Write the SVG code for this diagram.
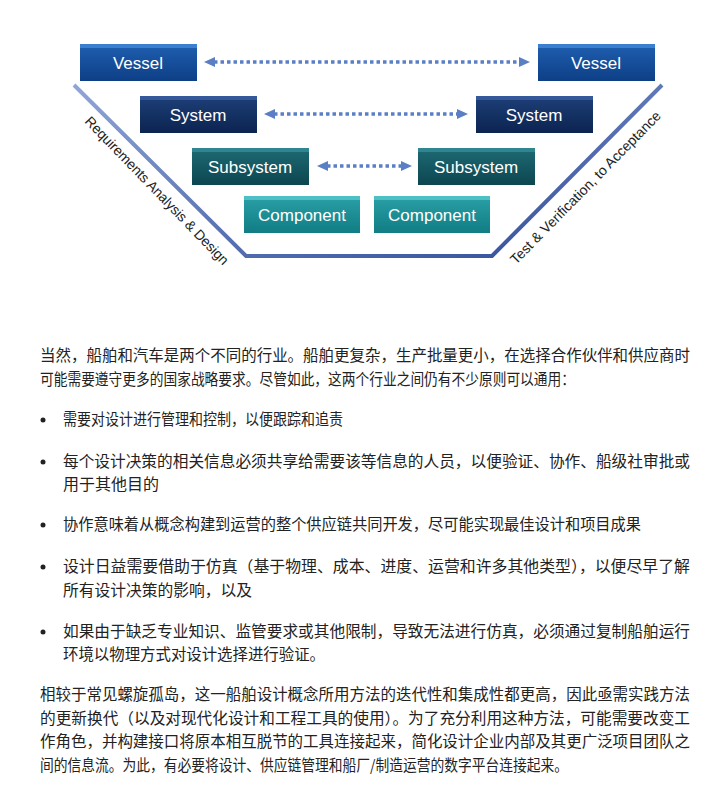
<svg xmlns="http://www.w3.org/2000/svg" width="726" height="790" viewBox="0 0 726 790">
<style>
.bt{font-family:"Liberation Sans",Arial,sans-serif;font-size:17px;fill:#fff;text-anchor:middle}
.lb{font-family:"Liberation Sans",Arial,sans-serif;font-size:14px;fill:#222}
.tx{font-family:"Noto Sans CJK SC","Noto Sans CJK JP",sans-serif;font-size:15.5px;fill:#222}
.ar{stroke:#5b7fc4;stroke-width:3.5;stroke-dasharray:3.5 3;fill:none}
.ah{fill:#5b7fc4}
</style>
<defs>
<linearGradient id="gv" x1="0" y1="0" x2="0" y2="1"><stop offset="0" stop-color="#1f5fb0"/><stop offset="1" stop-color="#0d3f86"/></linearGradient>
<linearGradient id="gs" x1="0" y1="0" x2="0" y2="1"><stop offset="0" stop-color="#1d3f78"/><stop offset="1" stop-color="#0c2450"/></linearGradient>
<linearGradient id="gb" x1="0" y1="0" x2="0" y2="1"><stop offset="0" stop-color="#1e6a74"/><stop offset="1" stop-color="#0c4650"/></linearGradient>
<linearGradient id="gc" x1="0" y1="0" x2="0" y2="1"><stop offset="0" stop-color="#2aa0a6"/><stop offset="1" stop-color="#117c84"/></linearGradient>
<linearGradient id="gl" x1="0" y1="0" x2="1" y2="1"><stop offset="0" stop-color="#8fa6d8"/><stop offset="1" stop-color="#2e4a96"/></linearGradient>
</defs>
<g id="vline">
<polyline points="74,85 246,256 492,256 662,85" fill="none" stroke="url(#gl)" stroke-width="4"/>
<text class="lb" transform="translate(84,122) rotate(46)" textLength="200">Requirements Analysis &amp; Design</text>
<text class="lb" transform="translate(516,265) rotate(-45.5)" textLength="208">Test &amp; Verification, to Acceptance</text>
</g>
<g id="connectors">
<line class="ar" x1="214" y1="62" x2="520" y2="62"/><polygon class="ah" points="204,62 215,57 215,67"/><polygon class="ah" points="530,62 519,57 519,67"/>
<line class="ar" x1="274" y1="114" x2="458" y2="114"/><polygon class="ah" points="264,114 275,109 275,119"/><polygon class="ah" points="468,114 457,109 457,119"/>
<line class="ar" x1="327" y1="166" x2="402" y2="166"/><polygon class="ah" points="317,166 328,161 328,171"/><polygon class="ah" points="412,166 401,161 401,171"/>
</g>
<g id="vessel-l"><rect x="80" y="44" width="117" height="37" fill="url(#gv)"/><rect x="80" y="44" width="117" height="4" fill="#3b7fd0"/><text class="bt" x="138" y="69">Vessel</text></g>
<g id="vessel-r"><rect x="538" y="44" width="117" height="37" fill="url(#gv)"/><rect x="538" y="44" width="117" height="4" fill="#3b7fd0"/><text class="bt" x="596" y="69">Vessel</text></g>
<g id="system-l"><rect x="140" y="96" width="117" height="37" fill="url(#gs)"/><rect x="140" y="96" width="117" height="4" fill="#34589a"/><text class="bt" x="198" y="121">System</text></g>
<g id="system-r"><rect x="476" y="96" width="117" height="37" fill="url(#gs)"/><rect x="476" y="96" width="117" height="4" fill="#34589a"/><text class="bt" x="534" y="121">System</text></g>
<g id="subsystem-l"><rect x="192" y="148" width="117" height="37" fill="url(#gb)"/><rect x="192" y="148" width="117" height="4" fill="#2f8590"/><text class="bt" x="250" y="173">Subsystem</text></g>
<g id="subsystem-r"><rect x="418" y="148" width="117" height="37" fill="url(#gb)"/><rect x="418" y="148" width="117" height="4" fill="#2f8590"/><text class="bt" x="476" y="173">Subsystem</text></g>
<g id="component-l"><rect x="244" y="196" width="116" height="37" fill="url(#gc)"/><rect x="244" y="196" width="116" height="4" fill="#4cc0c4"/><text class="bt" x="302" y="221">Component</text></g>
<g id="component-r"><rect x="374" y="196" width="116" height="37" fill="url(#gc)"/><rect x="374" y="196" width="116" height="4" fill="#4cc0c4"/><text class="bt" x="432" y="221">Component</text></g>
<g id="body">
<text class="tx" x="40" y="361" textLength="650" lengthAdjust="spacingAndGlyphs">当然，船舶和汽车是两个不同的行业。船舶更复杂，生产批量更小，在选择合作伙伴和供应商时</text>
<text class="tx" x="40" y="385" textLength="535" lengthAdjust="spacingAndGlyphs">可能需要遵守更多的国家战略要求。尽管如此，这两个行业之间仍有不少原则可以通用：</text>
<circle cx="43" cy="420" r="2.5" fill="#222"/>
<text class="tx" x="63" y="425" textLength="280" lengthAdjust="spacingAndGlyphs">需要对设计进行管理和控制，以便跟踪和追责</text>
<circle cx="43" cy="462" r="2.5" fill="#222"/>
<text class="tx" x="63" y="467" textLength="627" lengthAdjust="spacingAndGlyphs">每个设计决策的相关信息必须共享给需要该等信息的人员，以便验证、协作、船级社审批或</text>
<text class="tx" x="63" y="490" textLength="96" lengthAdjust="spacingAndGlyphs">用于其他目的</text>
<circle cx="43" cy="525" r="2.5" fill="#222"/>
<text class="tx" x="63" y="530" textLength="578" lengthAdjust="spacingAndGlyphs">协作意味着从概念构建到运营的整个供应链共同开发，尽可能实现最佳设计和项目成果</text>
<circle cx="43" cy="567" r="2.5" fill="#222"/>
<text class="tx" x="63" y="572" textLength="627" lengthAdjust="spacingAndGlyphs">设计日益需要借助于仿真（基于物理、成本、进度、运营和许多其他类型），以便尽早了解</text>
<text class="tx" x="63" y="596" textLength="189" lengthAdjust="spacingAndGlyphs">所有设计决策的影响，以及</text>
<circle cx="43" cy="632" r="2.5" fill="#222"/>
<text class="tx" x="63" y="637" textLength="627" lengthAdjust="spacingAndGlyphs">如果由于缺乏专业知识、监管要求或其他限制，导致无法进行仿真，必须通过复制船舶运行</text>
<text class="tx" x="63" y="660" textLength="262" lengthAdjust="spacingAndGlyphs">环境以物理方式对设计选择进行验证。</text>
<text class="tx" x="40" y="700" textLength="650" lengthAdjust="spacingAndGlyphs">相较于常见螺旋孤岛，这一船舶设计概念所用方法的迭代性和集成性都更高，因此亟需实践方法</text>
<text class="tx" x="40" y="724" textLength="650" lengthAdjust="spacingAndGlyphs">的更新换代（以及对现代化设计和工程工具的使用）。为了充分利用这种方法，可能需要改变工</text>
<text class="tx" x="40" y="747" textLength="650" lengthAdjust="spacingAndGlyphs">作角色，并构建接口将原本相互脱节的工具连接起来，简化设计企业内部及其更广泛项目团队之</text>
<text class="tx" x="40" y="771" textLength="528" lengthAdjust="spacingAndGlyphs">间的信息流。为此，有必要将设计、供应链管理和船厂/制造运营的数字平台连接起来。</text>
</g>
</svg>
